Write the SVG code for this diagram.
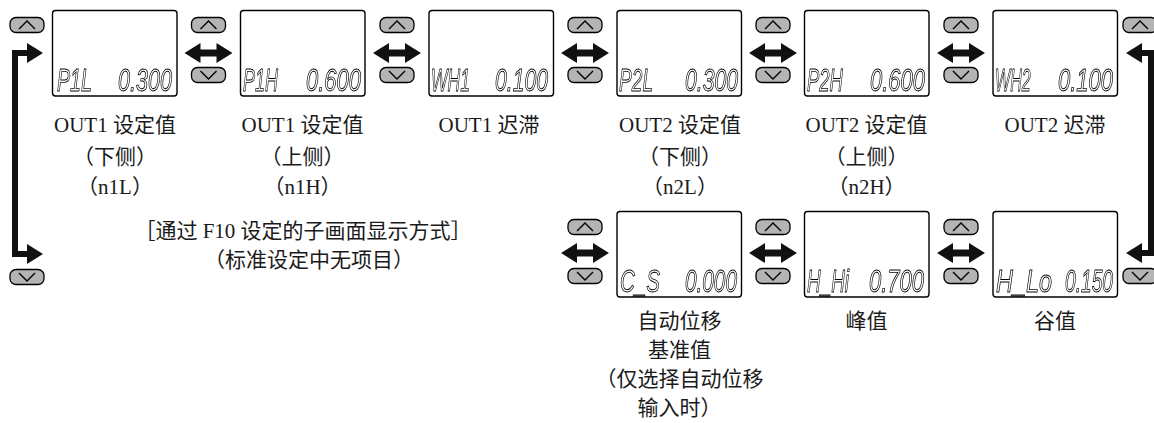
<svg xmlns="http://www.w3.org/2000/svg" xmlns:xlink="http://www.w3.org/1999/xlink" width="1154" height="423" viewBox="0 0 1154 423">
<style>
.box{fill:#fff;stroke:#000;stroke-width:1.4}
.lcd{font-family:"Liberation Sans",Arial,sans-serif;font-style:italic;font-size:31px;fill:none;stroke:#000;stroke-width:0.9;filter:url(#gs)}
.lbl{font-family:"Liberation Serif","Noto Sans CJK SC",serif;font-size:21px;fill:#1a1a1a;text-anchor:middle}
.btn{fill:#b4b4b4;stroke:#000;stroke-width:1.3}
.chev{fill:none;stroke:#000;stroke-width:1.4}
.arr{fill:#111}
.loop{fill:none;stroke:#111;stroke-width:6;stroke-linejoin:miter}
</style>
<defs>
<filter id="gs" x="-0.1" y="-0.3" width="1.2" height="1.6"><feOffset dx="0" dy="0"/></filter>
<g id="up"><rect class="btn" x="-17" y="-7.5" width="34" height="15" rx="6"/><path class="chev" d="M-8,4 L0,-4 L8,4"/></g>
<g id="dn"><rect class="btn" x="-17" y="-7.5" width="34" height="15" rx="6"/><path class="chev" d="M-8,-4 L0,4 L8,-4"/></g>
<path id="dbl" class="arr" d="M-24,0 L-8,-10 L-8,-3.5 L8,-3.5 L8,-10 L24,0 L8,10 L8,3.5 L-8,3.5 L-8,10 Z"/>
</defs>

<g id="connectors">
<path class="loop" d="M30,53 H15 V254 H30"/>
<polygon class="arr" points="27,43 43,53 27,63"/>
<polygon class="arr" points="27,244 43,254 27,264"/>
<path class="loop" d="M1140,53 H1151 V253 H1140"/>
<polygon class="arr" points="1142,43 1126,53 1142,63"/>
<polygon class="arr" points="1142,243 1126,253 1142,263"/>
<use xlink:href="#dbl" x="208.5" y="53"/>
<use xlink:href="#dbl" x="397" y="53"/>
<use xlink:href="#dbl" x="585" y="53"/>
<use xlink:href="#dbl" x="773" y="53"/>
<use xlink:href="#dbl" x="961" y="53"/>
<use xlink:href="#dbl" x="585" y="253"/>
<use xlink:href="#dbl" x="773" y="253"/>
<use xlink:href="#dbl" x="961" y="253"/>
<use xlink:href="#up" x="27" y="25"/>
<use xlink:href="#up" x="208.5" y="25"/><use xlink:href="#dn" x="208.5" y="75"/>
<use xlink:href="#up" x="397" y="25"/><use xlink:href="#dn" x="397" y="75"/>
<use xlink:href="#up" x="585" y="25"/><use xlink:href="#dn" x="585" y="75"/>
<use xlink:href="#up" x="773" y="25"/><use xlink:href="#dn" x="773" y="75"/>
<use xlink:href="#up" x="961" y="25"/><use xlink:href="#dn" x="961" y="75"/>
<use xlink:href="#up" x="1140" y="25"/>
<use xlink:href="#up" x="585" y="227"/><use xlink:href="#dn" x="585" y="276"/>
<use xlink:href="#up" x="773" y="227"/><use xlink:href="#dn" x="773" y="276"/>
<use xlink:href="#up" x="961" y="227"/><use xlink:href="#dn" x="961" y="276"/>
<use xlink:href="#dn" x="1140" y="276"/>
<use xlink:href="#dn" x="27" y="277"/>
</g>

<g id="n1L">
<rect class="box" x="52.5" y="10.5" width="124.5" height="85.5" rx="3"/>
<text class="lcd" transform="translate(57,90.5) scale(0.635,1)">P1L</text>
<text class="lcd" transform="translate(118,90.5) scale(0.696,1)">0.300</text>
<text class="lbl" x="115" y="132">OUT1 设定值</text>
<text class="lbl" x="115" y="164">（下侧）</text>
<text class="lbl" x="115" y="194">（n1L）</text>
</g>
<g id="n1H">
<rect class="box" x="240.5" y="10.5" width="124.5" height="85.5" rx="3"/>
<text class="lcd" transform="translate(243,90.5) scale(0.58,1)">P1H</text>
<text class="lcd" transform="translate(306,90.5) scale(0.709,1)">0.600</text>
<text class="lbl" x="302.5" y="132">OUT1 设定值</text>
<text class="lbl" x="302.5" y="164">（上侧）</text>
<text class="lbl" x="302.5" y="194">（n1H）</text>
</g>
<g id="hys1">
<rect class="box" x="429" y="10.5" width="124.5" height="85.5" rx="3"/>
<text class="lcd" transform="translate(431,90.5) scale(0.566,1)">WH1</text>
<text class="lcd" transform="translate(495,90.5) scale(0.683,1)">0.100</text>
<text class="lbl" x="489" y="132">OUT1 迟滞</text>
</g>
<g id="n2L">
<rect class="box" x="617" y="10.5" width="124.5" height="85.5" rx="3"/>
<text class="lcd" transform="translate(619,90.5) scale(0.617,1)">P2L</text>
<text class="lcd" transform="translate(685,90.5) scale(0.683,1)">0.300</text>
<text class="lbl" x="680" y="132">OUT2 设定值</text>
<text class="lbl" x="680" y="164">（下侧）</text>
<text class="lbl" x="680" y="194">（n2L）</text>
</g>
<g id="n2H">
<rect class="box" x="804.5" y="10.5" width="124.5" height="85.5" rx="3"/>
<text class="lcd" transform="translate(807,90.5) scale(0.597,1)">P2H</text>
<text class="lcd" transform="translate(870,90.5) scale(0.709,1)">0.600</text>
<text class="lbl" x="866.5" y="132">OUT2 设定值</text>
<text class="lbl" x="866.5" y="164">（上侧）</text>
<text class="lbl" x="866.5" y="194">（n2H）</text>
</g>
<g id="hys2">
<rect class="box" x="993" y="10.5" width="124.5" height="85.5" rx="3"/>
<text class="lcd" transform="translate(995,90.5) scale(0.52,1)">WH2</text>
<text class="lcd" transform="translate(1058,90.5) scale(0.709,1)">0.100</text>
<text class="lbl" x="1055" y="132">OUT2 迟滞</text>
</g>
<g id="note">
<text class="lbl" x="303" y="238">［通过 F10 设定的子画面显示方式］</text>
<text class="lbl" x="309" y="267">（标准设定中无项目）</text>
</g>
<g id="cs">
<rect class="box" x="617" y="211.5" width="124.5" height="85.5" rx="3"/>
<text class="lcd" transform="translate(620,291.5) scale(0.663,1)">C_S</text>
<text class="lcd" transform="translate(685,291.5) scale(0.67,1)">0.000</text>
<text class="lbl" x="679.5" y="328">自动位移</text>
<text class="lbl" x="679.5" y="357">基准值</text>
<text class="lbl" x="679.5" y="386">（仅选择自动位移</text>
<text class="lbl" x="679.5" y="415">输入时）</text>
</g>
<g id="peak">
<rect class="box" x="804.5" y="211.5" width="124.5" height="85.5" rx="3"/>
<text class="lcd" transform="translate(807,291.5) scale(0.61,1)">H_Hi</text>
<text class="lcd" transform="translate(869,291.5) scale(0.709,1)">0.700</text>
<text class="lbl" x="866.5" y="328">峰值</text>
</g>
<g id="bottom">
<rect class="box" x="993" y="211.5" width="124.5" height="85.5" rx="3"/>
<text class="lcd" transform="translate(996,291.5) scale(0.756,1)">H_Lo</text>
<text class="lcd" transform="translate(1065,291.5) scale(0.619,1)">0.150</text>
<text class="lbl" x="1055" y="328">谷值</text>
</g>
</svg>
